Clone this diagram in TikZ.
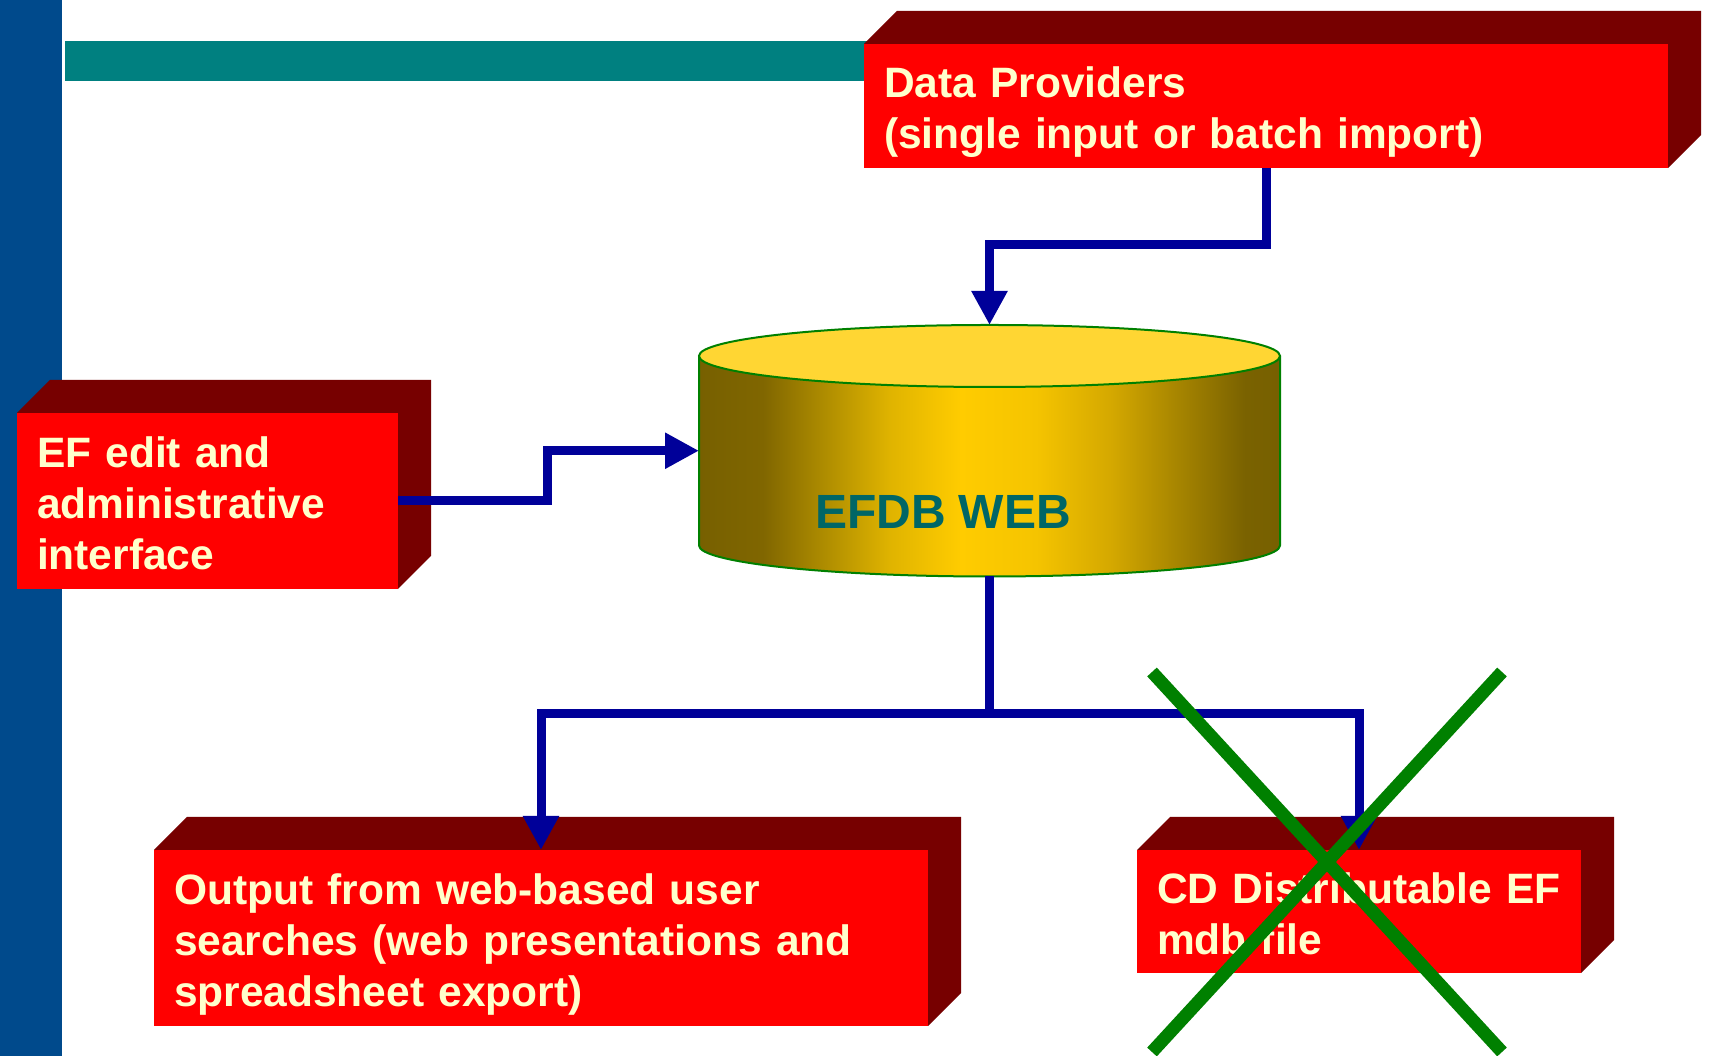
\documentclass[tikz,border=0pt]{standalone}
\usepackage{fontspec}
\setmainfont{Liberation Sans}
\usetikzlibrary{arrows.meta,calc}
\definecolor{barblue}{HTML}{004A8C}
\definecolor{barteal}{HTML}{008080}
\definecolor{boxred}{HTML}{FF0000}
\definecolor{boxdark}{HTML}{770000}
\definecolor{txtyellow}{HTML}{FFFFCC}
\definecolor{linkblue}{HTML}{000099}
\definecolor{crossgreen}{HTML}{008000}
\definecolor{cyldark}{HTML}{776000}
\definecolor{cylA}{HTML}{806600}
\definecolor{cylB}{HTML}{B08E00}
\definecolor{cylC}{HTML}{E0B400}
\definecolor{cylgold}{HTML}{FFCC00}
\definecolor{cylD}{HTML}{F5C400}
\definecolor{cylE}{HTML}{D4A800}
\definecolor{cylF}{HTML}{A88600}
\definecolor{cylG}{HTML}{7A6200}
\definecolor{cyltop}{HTML}{FFD633}
\definecolor{labelteal}{HTML}{006666}
\pgfdeclarehorizontalshading{cylshade}{100bp}{color(0bp)=(cyldark); color(25bp)=(cyldark); color(30.5bp)=(cylA); color(36bp)=(cylB); color(41.5bp)=(cylC); color(47.5bp)=(cylgold); color(54bp)=(cylD); color(60.5bp)=(cylE); color(66bp)=(cylF); color(72bp)=(cylG); color(75bp)=(cyldark); color(100bp)=(cyldark)}
\newcommand\depthfaces[1]{%
  \fill[boxdark] (#1.north west) -- ++(33,33) -- ($(#1.north east)+(33,33)$)
    -- ($(#1.south east)+(33,33)$) -- (#1.south east) -- (#1.north east) -- cycle;}
\newcommand\topstrut[1]{\rule{0pt}{#1}}
\begin{document}
\begin{tikzpicture}[x=1pt,y=1pt,
  frontbox/.style={fill=boxred, text=txtyellow,
    font=\fontsize{42.5}{51}\selectfont\bfseries, align=left,
    inner xsep=20pt, inner ysep=0pt, outer sep=0pt, anchor=south west},
  link/.style={draw=linkblue, line width=9pt, -{Triangle[length=34pt,width=34pt]}},
  crossline/.style={draw=crossgreen, line width=13pt},
  cylout/.style={draw=crossgreen, line width=2pt}
]
\useasboundingbox (0,0) rectangle (1709,1056);
\fill[white] (0,0) rectangle (1709,1056);
% side bars
\fill[barblue] (0,0) rectangle (62,1056);
\fill[barteal] (65,975) rectangle (872,1015);

% boxes
\node[frontbox, text width=764pt, minimum height=124pt] (dp) at (864,888)
  {\topstrut{44pt}Data Providers\\(single input or batch import)};
\depthfaces{dp}
\node[frontbox, text width=341pt, minimum height=176pt] (ef) at (17,467)
  {\topstrut{35pt}EF edit and\\administrative\\interface};
\depthfaces{ef}
\node[frontbox, text width=734pt, minimum height=176pt] (out) at (154,30)
  {\topstrut{44pt}Output from web-based user\\searches (web presentations and\\spreadsheet export)};
\depthfaces{out}
\node[frontbox, text width=404pt, minimum height=123pt] (cd) at (1137,83)
  {\topstrut{35pt}CD Distributable EF\\mdb file};
\depthfaces{cd}

% database cylinder
\node[minimum width=581pt, minimum height=251.5pt, inner sep=0pt, outer sep=0pt] (db) at (989.5,605.25) {};
\shade[shading=cylshade] (699,700) -- (699,510.5)
  arc[start angle=180, end angle=360, x radius=290.5, y radius=31]
  -- (1280,700) arc[start angle=0, end angle=-180, x radius=290.5, y radius=31] -- cycle;
\draw[cylout] (699,700) -- (699,510.5)
  arc[start angle=180, end angle=360, x radius=290.5, y radius=31] -- (1280,700);
\filldraw[cylout, fill=cyltop] (989.5,700) ellipse[x radius=290.5, y radius=31];
\node[font=\fontsize{48}{58}\selectfont\bfseries, text=labelteal, anchor=base] (dblabel) at (943,527) {EFDB WEB};

% connectors
\draw[link] ($(dp.south west)+(402,0)$) |- ($(db.north)+(0,80)$) -- (db.north);
\draw[link] ($(ef.south east)+(0,88)$) -- ++(149,0) |- (db.west);
\coordinate (fork) at ($(db.south)+(0,-137.5)$);
\draw[link] (db.south) -- (fork) -| ($(out.north west)+(387,0)$);
\draw[link] (fork) -| ($(cd.north west)+(222,0)$);

% cross
\draw[crossline] (1152,384) -- (1502,4);
\draw[crossline] (1502,384) -- (1152,4);
\end{tikzpicture}
\end{document}
